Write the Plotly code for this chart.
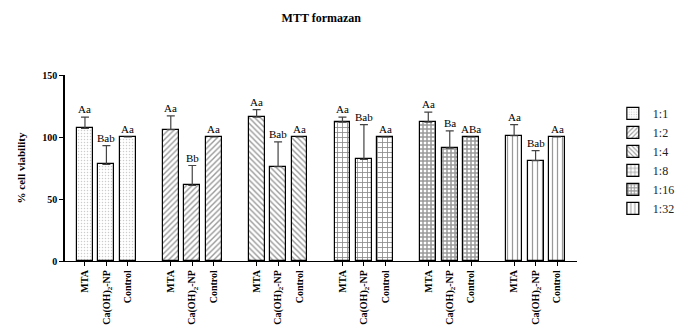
import plotly.graph_objects as go

# Dilution ratios (one trace each) and the three materials tested per ratio
ratios = ["1:1", "1:2", "1:4", "1:8", "1:16", "1:32"]
materials = ["MTA", "Ca(OH)<sub>2</sub>-NP", "Control"]

# Mean % cell viability per ratio: [MTA, Ca(OH)2-NP, Control]
mean_11 = [107, 78, 100]
mean_12 = [106, 61, 100]
mean_14 = [116, 76, 100]
mean_18 = [112, 82, 100]
mean_116 = [112, 91, 100]
mean_132 = [101, 81, 100]

# Upper error (SD) per ratio
err_11 = [9, 15, 0]
err_12 = [11, 16, 0]
err_14 = [6, 20, 0]
err_18 = [4, 28, 0]
err_116 = [8, 14, 0]
err_132 = [9, 8, 0]

# Statistical grouping letters
letters_11 = ["Aa", "Bab", "Aa"]
letters_12 = ["Aa", "Bb", "Aa"]
letters_14 = ["Aa", "Bab", "Aa"]
letters_18 = ["Aa", "Bab", "Aa"]
letters_116 = ["Aa", "Ba", "ABa"]
letters_132 = ["Aa", "Bab", "Aa"]

means = [mean_11, mean_12, mean_14, mean_18, mean_116, mean_132]
errs = [err_11, err_12, err_14, err_18, err_116, err_132]
letters = [letters_11, letters_12, letters_14, letters_18, letters_116, letters_132]

patterns = [
    dict(shape=".", size=3, solidity=0.2, fgcolor="#999", bgcolor="white"),
    dict(shape="/", size=4, solidity=0.35, fgcolor="#333", bgcolor="white"),
    dict(shape="\\", size=4, solidity=0.35, fgcolor="#333", bgcolor="white"),
    dict(shape="+", size=5, solidity=0.3, fgcolor="#111", bgcolor="white"),
    dict(shape="+", size=4, solidity=0.6, fgcolor="#333", bgcolor="white"),
    dict(shape="|", size=5, solidity=0.25, fgcolor="#333", bgcolor="white"),
]

SERIF = "Liberation Serif"

fig = go.Figure()
tickvals, ticktext = [], []
annotations = []
for g, name in enumerate(ratios):
    xs = [g * 4 + i for i in range(3)]
    tickvals += xs
    ticktext += materials
    fig.add_trace(go.Bar(
        x=xs, y=means[g], name=name, width=0.74,
        marker=dict(color="white", line=dict(color="black", width=1.2),
                    pattern=patterns[g]),
        error_y=dict(type="data", symmetric=False, array=errs[g],
                     arrayminus=[0, 0, 0], color="#444", thickness=1.2, width=4),
    ))
    for i in range(3):
        annotations.append(dict(
            x=xs[i], y=means[g][i] + errs[g][i], text=letters[g][i],
            showarrow=False, yanchor="bottom", yshift=0,
            font=dict(family=SERIF, size=11, color="black"),
        ))

fig.update_layout(
    width=675, height=333,
    margin=dict(l=65, r=98, t=75, b=72, autoexpand=False),
    plot_bgcolor="white", paper_bgcolor="white",
    bargap=0, showlegend=True,
    title=dict(text="<b>MTT formazan</b>", x=0.476, xanchor="center",
               y=0.946, yanchor="middle",
               font=dict(family=SERIF, size=12, color="black")),
    legend=dict(x=1.07, xanchor="left", y=0.872, yanchor="top",
                font=dict(family=SERIF, size=12, color="#222"),
                tracegroupgap=0, bgcolor="rgba(0,0,0,0)"),
    annotations=annotations,
)
fig.update_xaxes(
    range=[-0.93, 22.93], tickmode="array", tickvals=tickvals, ticktext=ticktext,
    tickangle=-90, ticks="outside", ticklen=4, tickwidth=1, tickcolor="black",
    showline=True, linecolor="black", linewidth=1.2, showgrid=False, zeroline=False,
    automargin=False,
    tickfont=dict(family=SERIF, size=10, color="black", weight="bold"),
)
fig.update_yaxes(
    range=[0, 150], tickvals=[0, 50, 100, 150],
    ticks="outside", ticklen=4, tickwidth=1, tickcolor="black",
    showline=True, linecolor="black", linewidth=1.5, showgrid=False, zeroline=False,
    automargin=False,
    tickfont=dict(family=SERIF, size=10, color="black", weight="bold"),
    title=dict(text="<b>% cell viability</b>", standoff=14,
               font=dict(family=SERIF, size=11, color="black")),
)

fig.write_html("out.html")
